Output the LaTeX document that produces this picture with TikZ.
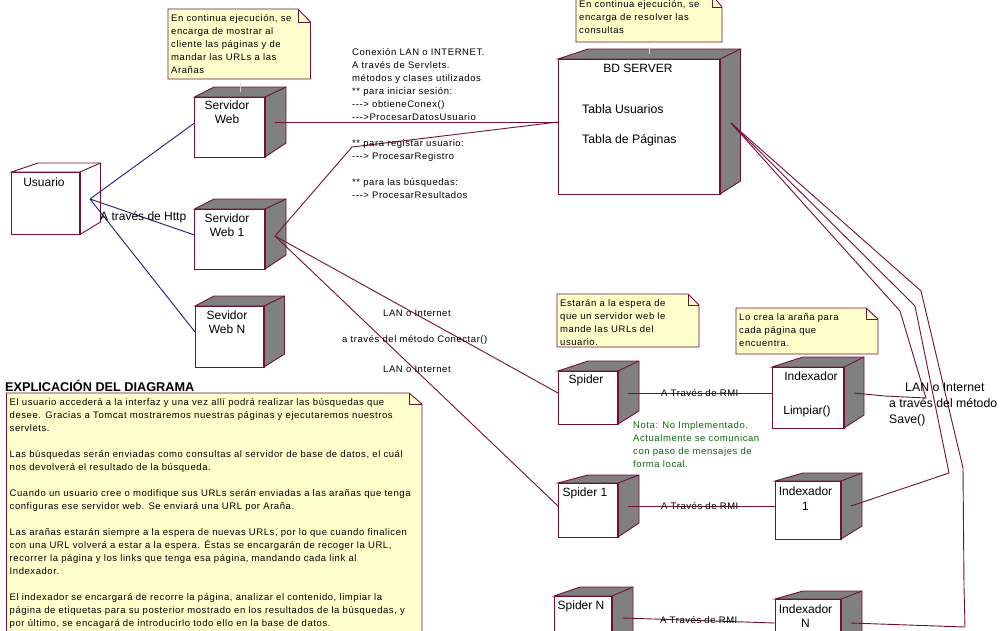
\documentclass[tikz,border=0pt]{standalone}
\usepackage{fontspec}
\setmainfont{Liberation Sans}
\newfontfamily\smallfam[LetterSpace=6]{Liberation Sans}
\definecolor{rosered}{HTML}{701038}
\definecolor{roseblue}{HTML}{1C1C80}
\definecolor{notefill}{HTML}{FFFFCC}
\definecolor{notegreen}{HTML}{146414}
\colorlet{sidefill}{gray}
\tikzset{
  cubeline/.style={draw=rosered,line width=0.9pt,line join=miter},
  cubeface/.style={cubeline,fill=white,inner sep=0pt,outer sep=0pt},
  cubeedge/.style={draw=rosered,line width=1.7pt},
  conn/.style={draw=rosered,line width=0.9pt},
  httpconn/.style={draw=roseblue,line width=0.9pt},
  notelink/.style={draw=gray!35,line width=0.9pt},
  noteshape/.style={draw=rosered,line width=0.9pt,fill=notefill},
  notebody/.style={inner sep=0pt,outer sep=0pt},
  smalltext/.style={font=\smallfam\fontsize{9.5}{13.05}\selectfont,align=left,anchor=north west,inner sep=0pt},
  bigtext/.style={font=\fontsize{12}{14.5}\selectfont,align=center,inner sep=0pt},
  bigleft/.style={font=\fontsize{12.3}{16}\selectfont,align=left,anchor=west,inner sep=0pt},
}
% name,x0,y0,x1,y1,backleft,backright,backtop,backbottom
\newcommand{\cubeN}[9]{%
  \filldraw[cubeline,fill=sidefill] (#2,#3) -- (#6,#8) -- (#7,#8) -- (#7,#9) -- (#4,#5) -- (#4,#3) -- cycle;
  \draw[cubeline] (#4,#3) -- (#7,#8);
  \node[cubeface,minimum width={(#4-#2)*1pt},minimum height={(#5-#3)*1pt}] (#1) at ({(#2+#4)/2},{(#3+#5)/2}) {};
  \draw[cubeedge] (#1.north east) -- (#1.south east);
}
% name,x0,y0,x1,y1,foldx,foldy,text
\newcommand{\noteN}[8]{%
  \node[notebody,minimum width={(#4-#2)*1pt},minimum height={(#5-#3)*1pt}] (#1) at ({(#2+#4)/2},{(#3+#5)/2}) {};
  \filldraw[noteshape] (#2,#3) -- (#6,#3) -- (#4,#7) -- (#4,#5) -- (#2,#5) -- cycle;
  \draw[noteshape,fill=none] (#6,#3) -- (#6,#7) -- (#4,#7);
  \node[smalltext] (#1t) at (#2+3,#3+5) {#8};
}
\begin{document}
\begin{tikzpicture}[x=1pt,y=-1pt]
\useasboundingbox (0,0) rectangle (1007,630);
\clip (0,0) rectangle (1007,630);
\fill[white] (0,0) rectangle (1007,630);

% notes
\noteN{noteweb}{168}{9}{310.5}{79}{298}{22}{En continua ejecución, se\\encarga de mostrar al\\cliente las páginas y de\\mandar las URLs a las\\Arañas}
\noteN{notebd}{576}{-5}{722}{42}{712}{7}{En continua ejecución, se\\encarga de resolver las\\consultas}
\noteN{notespider}{557}{294}{699}{347}{688}{305}{Estarán a la espera de\\que un servidor web le\\mande las URLs del\\usuario.}
\noteN{noteindex}{736}{308}{878}{354}{866}{319}{Lo crea la araña para\\cada página que\\encuentra.}
\noteN{noteexp}{6.5}{393}{422}{660}{409}{404}{El usuario accederá a la interfaz y una vez allí podrá realizar las búsquedas que\\desee. Gracias a Tomcat mostraremos nuestras páginas y ejecutaremos nuestros\\servlets.\\[13pt]Las búsquedas serán enviadas como consultas al servidor de base de datos, el cuál\\nos devolverá el resultado de la búsqueda.\\[13pt]Cuando un usuario cree o modifique sus URLs serán enviadas a las arañas que tenga\\configuras ese servidor web. Se enviará una URL por Araña.\\[13pt]Las arañas estarán siempre a la espera de nuevas URLs, por lo que cuando finalicen\\con una URL volverá a estar a la espera. Éstas se encargarán de recoger la URL,\\recorrer la página y los links que tenga esa página, mandando cada link al\\Indexador.\\[13pt]El indexador se encargará de recorre la página, analizar el contenido, limpiar la\\página de etiquetas para su posterior mostrado en los resultados de la búsquedas, y\\por último, se encagará de introducirlo todo ello en la base de datos.}

% cubes
\begin{scope}\colorlet{sidefill}{white}
\cubeN{usuario}{11.5}{172}{80}{234.5}{38}{100.5}{163}{222}
\end{scope}
\cubeN{web}{194.5}{97}{265}{157}{214}{286}{87}{143}
\cubeN{webone}{194.5}{209}{265}{269}{214}{286}{199}{255}
\cubeN{webn}{195}{306}{264}{367}{214}{284.5}{296}{354}
\cubeN{bd}{558}{59}{720}{194}{588}{740.5}{49}{181}
\cubeN{spider}{558}{371}{618}{424}{588}{639}{361}{411}
\cubeN{indexa}{772}{367}{844}{428}{803}{864}{357}{415}
\cubeN{spiderone}{558}{483}{618}{537}{588}{639}{475}{523}
\cubeN{indexone}{775}{481}{841}{539}{803}{862}{473}{526}
\cubeN{spidern}{554}{596}{612}{680}{580}{633}{587}{665}
\cubeN{indexn}{775}{599}{841}{680}{803}{862}{591}{665}

% connector end points
\coordinate (uP) at (90,199);
\coordinate (webL) at (194.5,123);
\coordinate (weboneL) at (194.5,235);
\coordinate (webnL) at (195,332);
\coordinate (webP) at (275,122);
\coordinate (weboneP) at (275,236);
\coordinate (bdL) at (558,122);
\coordinate (bdP) at (731,123);
\coordinate (spiderL) at (558,393);
\coordinate (spideroneL) at (558,506);
\coordinate (spiderP) at (628,393);
\coordinate (spideroneP) at (628,506);
\coordinate (spidernP) at (623,618);
\coordinate (indexaL) at (772,393);
\coordinate (indexoneL) at (775,506);
\coordinate (indexnL) at (775,623);
\coordinate (indexaP) at (854,393);
\coordinate (indexoneP) at (851,506);
\coordinate (indexnP) at (851,623);
\coordinate (lnkwebA) at (240,83);
\coordinate (lnkwebB) at (240,92);
\coordinate (lnkbdA) at (649,47);
\coordinate (lnkbdB) at (649,54);

% connectors
\draw[notelink] (lnkwebA) -- (lnkwebB);
\draw[notelink] (lnkbdA) -- (lnkbdB);
\draw[httpconn] (uP) -- (webL);
\draw[httpconn] (uP) -- (weboneL);
\draw[httpconn] (uP) -- (webnL);
\draw[conn] (webP) -- (bdL);
\draw[conn] (weboneP) -- (352,147) -- (bdL);
\draw[conn] (weboneP) -- (spiderL);
\draw[conn] (weboneP) -- (spideroneL);
\draw[conn] (spiderP) -- (indexaL);
\draw[conn] (spideroneP) -- (indexoneL);
\draw[conn] (spidernP) -- (indexnL);
\draw[conn] (bdP) -- (921,291) -- (963,468) -- (964,587) -- (965,627) -- (indexnP);
\draw[conn] (bdP) -- (915,306) -- (949,473) -- (indexoneP);
\draw[conn] (bdP) -- (900,311) -- (926,398) -- (885,396) -- (indexaP);

% cube labels
\node[bigtext] (usuarioT) at (44,182) {Usuario};
\node[bigtext] (webT) at (227,112) {Servidor\\Web};
\node[bigtext] (weboneT) at (227,225) {Servidor\\Web 1};
\node[bigtext] (webnT) at (227,322) {Sevidor\\Web N};
\node[bigtext] (bdT) at (638,68) {BD SERVER};
\node[bigleft] (bdA) at (582,109) {Tabla Usuarios};
\node[bigleft] (bdB) at (582,140) {Tabla de Páginas};
\node[bigtext] (spiderT) at (586,380) {Spider};
\node[bigtext] (indexaT) at (811,376) {Indexador};
\node[bigtext] (indexaU) at (807,411) {Limpiar()};
\node[bigtext] (spideroneT) at (585,493) {Spider 1};
\node[bigtext] (indexoneT) at (805.5,498.5) {Indexador\\1};
\node[bigtext] (spidernT) at (581,606) {Spider N};
\node[bigtext] (indexnT) at (805.5,616) {Indexador\\N};

% free labels
\node[bigleft,font=\fontsize{12}{16}\selectfont] (httpT) at (100,217) {A través de Http};
\node[smalltext] (connT) at (352,48) {Conexión LAN o INTERNET.\\A través de Servlets.\\métodos y clases utilizados\\** para iniciar sesión:\\---> obtieneConex()\\--->ProcesarDatosUsuario\\[13pt]** para registar usuario:\\---> ProcesarRegistro\\[13pt]** para las búsquedas:\\---> ProcesarResultados};
\node[smalltext] (lanA) at (383,310) {LAN o Internet};
\node[smalltext] (metT) at (342,335) {a través del método Conectar()};
\node[smalltext] (lanB) at (383,366) {LAN o Internet};
\node[smalltext] (rmiA) at (661,389) {A Través de RMI};
\node[smalltext] (rmiB) at (661,502) {A Través de RMI};
\node[smalltext] (rmiC) at (660,616) {A Través de RMI};
\node[smalltext,text=notegreen] (notaT) at (633,421) {Nota: No Implementado.\\Actualmente se comunican\\con paso de mensajes de\\forma local.};
\node[bigleft,anchor=north west] (saveT) at (889,383) {\hspace*{16pt}LAN o Internet\\a través del método\\Save()};
\node[anchor=west,inner sep=0pt,font=\bfseries\fontsize{12.7}{15}\selectfont] (expT) at (5,386) {EXPLICACIÓN DEL DIAGRAMA};
\end{tikzpicture}
\end{document}
